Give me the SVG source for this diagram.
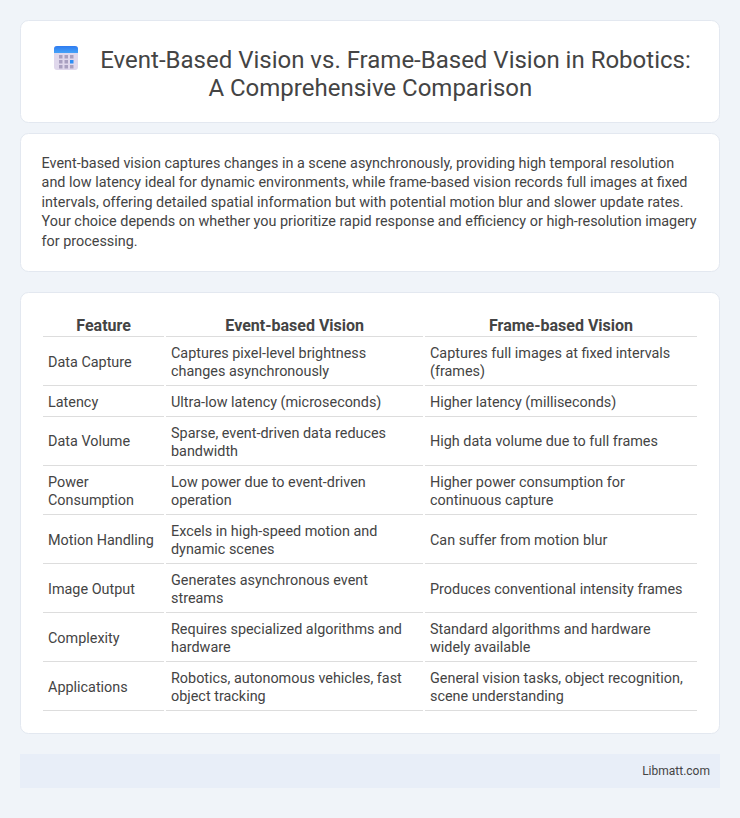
<svg xmlns="http://www.w3.org/2000/svg" width="740" height="818" viewBox="0 0 740 818">
<style>
text{font-family:Roboto,"Liberation Sans",sans-serif;fill:#444}
.t{font-size:24px;text-anchor:middle}
.p{font-size:14.4px}
.h{font-size:16px;font-weight:700;text-anchor:middle}
.c{font-size:14.4px}
.card{fill:#fff;stroke:#e3e8f0;stroke-width:1}
.r{fill:#ddd}
.d{fill:#a9a0c0}
</style>
<defs><linearGradient id="g" x1="0" y1="0" x2="0" y2="1"><stop offset="0" stop-color="#2f7bf0"/><stop offset="1" stop-color="#45a2f8"/></linearGradient></defs>
<rect width="740" height="818" fill="#f0f4f9"/>
<g id="header">
<rect class="card" x="20.500" y="20.500" width="699" height="102" rx="8"/>
<rect x="54" y="46" width="24" height="24" rx="3" fill="#e0d8ec"/>
<path d="M54 53v-4a3 3 0 0 1 3-3h18a3 3 0 0 1 3 3v4z" fill="url(#g)"/>
<g class="d"><rect x="59" y="55" width="3.500" height="3.500"/><rect x="64.500" y="55" width="3.500" height="3.500"/><rect x="70" y="55" width="3.500" height="3.500"/><rect x="59" y="60" width="3.500" height="3.500"/><rect x="64.500" y="60" width="3.500" height="3.500"/><rect x="70" y="60" width="3.500" height="3.500" fill="#2f8ef5"/><rect x="59" y="65" width="3.500" height="3.500"/><rect x="64.500" y="65" width="3.500" height="3.500"/><rect x="70" y="65" width="3.500" height="3.500"/></g>
<text class="t" x="395.500" y="68">Event-Based Vision vs. Frame-Based Vision in Robotics:</text>
<text class="t" x="370.300" y="96">A Comprehensive Comparison</text>
</g>
<g id="intro">
<rect class="card" x="20.500" y="133.500" width="699" height="138" rx="8"/>
<text class="p" x="41.600" y="168">Event-based vision captures changes in a scene asynchronously, providing high temporal resolution</text>
<text class="p" x="41.600" y="187">and low latency ideal for dynamic environments, while frame-based vision records full images at fixed</text>
<text class="p" x="41.600" y="207">intervals, offering detailed spatial information but with potential motion blur and slower update rates.</text>
<text class="p" x="41.600" y="226">Your choice depends on whether you prioritize rapid response and efficiency or high-resolution imagery</text>
<text class="p" x="41.600" y="246">for processing.</text>
</g>
<g id="table">
<rect class="card" x="20.500" y="292.500" width="699" height="441" rx="8"/>
<text class="h" x="103.600" y="331">Feature</text><text class="h" x="294.700" y="331">Event-based Vision</text><text class="h" x="561" y="331">Frame-based Vision</text>
<g id="rules">
<rect class="r" x="43" y="336" width="121" height="1"/><rect class="r" x="166" y="336" width="257" height="1"/><rect class="r" x="425" y="336" width="272" height="1"/>
<rect class="r" x="43" y="385" width="121" height="1"/><rect class="r" x="166" y="385" width="257" height="1"/><rect class="r" x="425" y="385" width="272" height="1"/>
<rect class="r" x="43" y="416" width="121" height="1"/><rect class="r" x="166" y="416" width="257" height="1"/><rect class="r" x="425" y="416" width="272" height="1"/>
<rect class="r" x="43" y="465" width="121" height="1"/><rect class="r" x="166" y="465" width="257" height="1"/><rect class="r" x="425" y="465" width="272" height="1"/>
<rect class="r" x="43" y="514" width="121" height="1"/><rect class="r" x="166" y="514" width="257" height="1"/><rect class="r" x="425" y="514" width="272" height="1"/>
<rect class="r" x="43" y="563" width="121" height="1"/><rect class="r" x="166" y="563" width="257" height="1"/><rect class="r" x="425" y="563" width="272" height="1"/>
<rect class="r" x="43" y="612" width="121" height="1"/><rect class="r" x="166" y="612" width="257" height="1"/><rect class="r" x="425" y="612" width="272" height="1"/>
<rect class="r" x="43" y="661" width="121" height="1"/><rect class="r" x="166" y="661" width="257" height="1"/><rect class="r" x="425" y="661" width="272" height="1"/>
<rect class="r" x="43" y="710" width="121" height="1"/><rect class="r" x="166" y="710" width="257" height="1"/><rect class="r" x="425" y="710" width="272" height="1"/>
</g>
<g class="c">
<text class="c" x="48" y="367">Data Capture</text><text class="c" x="171" y="358">Captures pixel-level brightness</text><text class="c" x="171" y="376">changes asynchronously</text><text class="c" x="430" y="358">Captures full images at fixed intervals</text><text class="c" x="430" y="376">(frames)</text>
<text class="c" x="48" y="407">Latency</text><text class="c" x="171" y="407">Ultra-low latency (microseconds)</text><text class="c" x="430" y="407">Higher latency (milliseconds)</text>
<text class="c" x="48" y="446">Data Volume</text><text class="c" x="171" y="438">Sparse, event-driven data reduces</text><text class="c" x="171" y="456">bandwidth</text><text class="c" x="430" y="446">High data volume due to full frames</text>
<text class="c" x="48" y="487">Power</text><text class="c" x="48" y="505">Consumption</text><text class="c" x="171" y="487">Low power due to event-driven</text><text class="c" x="171" y="505">operation</text><text class="c" x="430" y="487">Higher power consumption for</text><text class="c" x="430" y="505">continuous capture</text>
<text class="c" x="48" y="545">Motion Handling</text><text class="c" x="171" y="536">Excels in high-speed motion and</text><text class="c" x="171" y="554">dynamic scenes</text><text class="c" x="430" y="545">Can suffer from motion blur</text>
<text class="c" x="48" y="594">Image Output</text><text class="c" x="171" y="585">Generates asynchronous event</text><text class="c" x="171" y="603">streams</text><text class="c" x="430" y="594">Produces conventional intensity frames</text>
<text class="c" x="48" y="643">Complexity</text><text class="c" x="171" y="634">Requires specialized algorithms and</text><text class="c" x="171" y="652">hardware</text><text class="c" x="430" y="634">Standard algorithms and hardware</text><text class="c" x="430" y="652">widely available</text>
<text class="c" x="48" y="692">Applications</text><text class="c" x="171" y="683">Robotics, autonomous vehicles, fast</text><text class="c" x="171" y="701">object tracking</text><text class="c" x="430" y="683">General vision tasks, object recognition,</text><text class="c" x="430" y="701">scene understanding</text>
</g>
</g>
<g id="footer">
<rect x="20" y="754" width="700" height="34" fill="#e8eef8"/>
<text x="710" y="775" font-size="12" text-anchor="end">Libmatt.com</text>
</g>
</svg>
